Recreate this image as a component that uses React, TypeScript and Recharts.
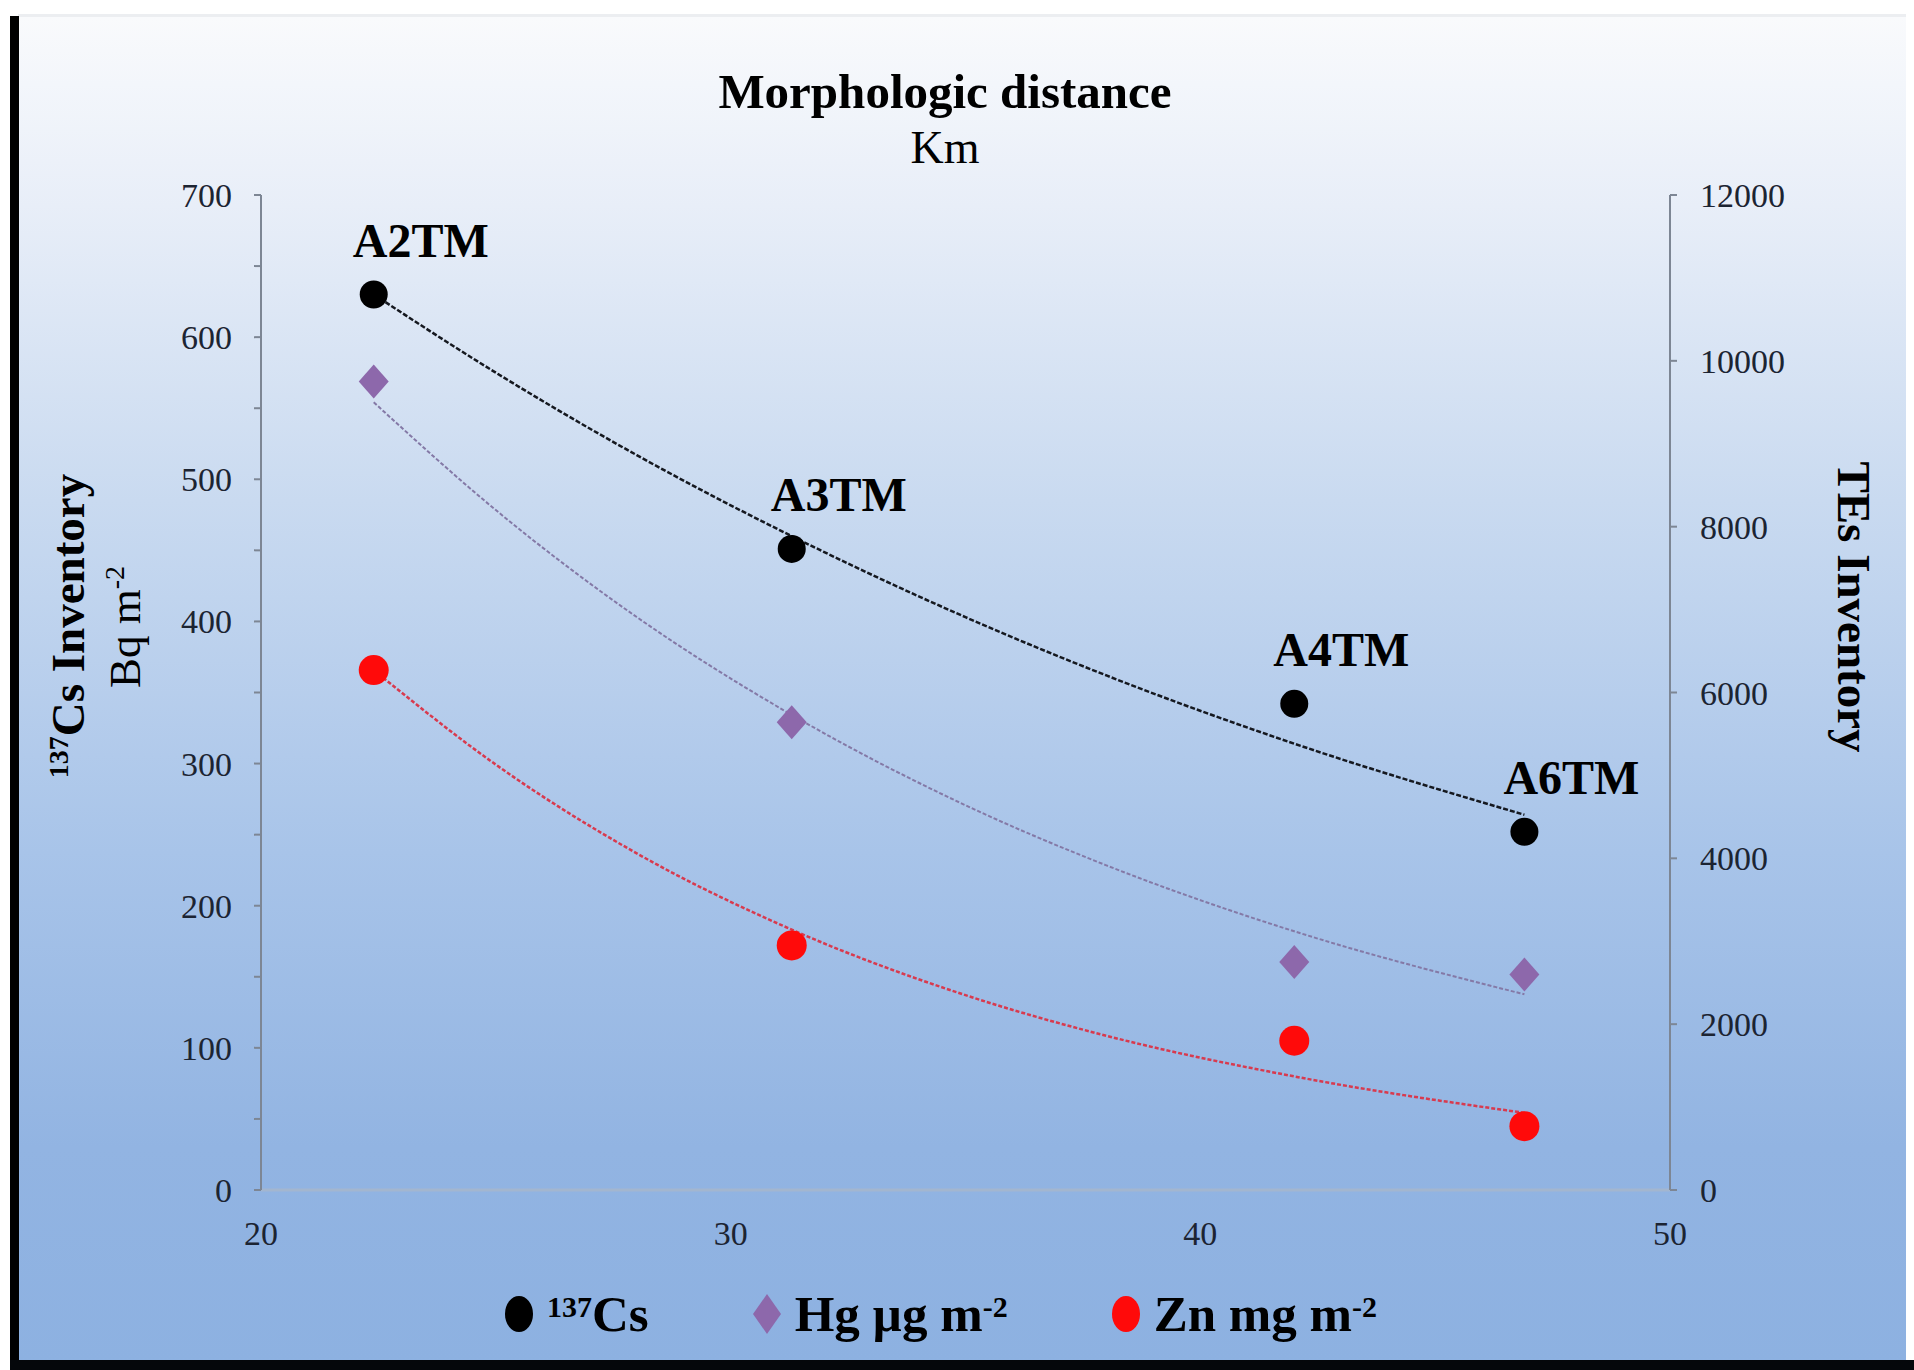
import React from 'react';
import { ComposedChart, Scatter, Line, XAxis, YAxis } from 'recharts';

// sampling sites along the river
const sites = ['A2TM', 'A3TM', 'A4TM', 'A6TM'];
const distanceKm = [22.4, 31.3, 42.0, 46.9];
const cs137 = [630, 451, 342, 252]; // Bq m-2, left axis
const hg = [9750, 5640, 2750, 2600]; // right axis
const zn = [6270, 2950, 1800, 770]; // right axis

// trend curves
const trendKm = [22.4, 25, 28, 31.3, 35, 38, 42, 46.9];
const csTrend = [630, 575, 517, 460, 403, 362, 314, 264];
const hgTrend = [9500, 8200, 6910, 5730, 4640, 3915, 3120, 2360];
const znTrend = [6270, 5130, 4060, 3140, 2350, 1860, 1370, 930];

const xTicks = [20, 30, 40, 50];
const leftTicks = [0, 50, 100, 150, 200, 250, 300, 350, 400, 450, 500, 550, 600, 650, 700];
const rightTicks = [0, 2000, 4000, 6000, 8000, 10000, 12000];

const SERIF = '"Liberation Serif", "DejaVu Serif", serif';
const TICK_COLOR = '#1c2432';
const HG_COLOR = '#8d68ab';
const ZN_COLOR = '#ff0a0a';

const csPoints = sites.map((site, i) => ({ x: distanceKm[i], y: cs137[i], site }));
const hgPoints = sites.map((site, i) => ({ x: distanceKm[i], y: hg[i], site }));
const znPoints = sites.map((site, i) => ({ x: distanceKm[i], y: zn[i], site }));
const csTrendRows = trendKm.map((x, i) => ({ x, y: csTrend[i] }));
const hgTrendRows = trendKm.map((x, i) => ({ x, y: hgTrend[i] }));
const znTrendRows = trendKm.map((x, i) => ({ x, y: znTrend[i] }));

const CsMarker = (p: any) => (
  <g>
    <circle cx={p.cx} cy={p.cy} r={14} fill="#000" />
    <text x={p.cx + 47} y={p.cy - 38} textAnchor="middle" fontFamily={SERIF} fontWeight="bold" fontSize={48} fill="#000">
      {p.payload.site}
    </text>
  </g>
);

const HgMarker = (p: any) => (
  <polygon
    points={`${p.cx},${p.cy - 17} ${p.cx + 15},${p.cy} ${p.cx},${p.cy + 17} ${p.cx - 15},${p.cy}`}
    fill={HG_COLOR}
  />
);

const ZnMarker = (p: any) => <circle cx={p.cx} cy={p.cy} r={15} fill={ZN_COLOR} />;

const LeftTick = (p: any) => {
  if (p.payload.value % 100 !== 0) return <g />;
  return (
    <text x={p.x} y={p.y + 12} textAnchor="end" fontFamily={SERIF} fontSize={34} fill={TICK_COLOR}>
      {p.payload.value}
    </text>
  );
};

const RightTick = (p: any) => (
  <text x={p.x} y={p.y + 12} textAnchor="start" fontFamily={SERIF} fontSize={34} fill={TICK_COLOR}>
    {p.payload.value}
  </text>
);

const BottomTick = (p: any) => (
  <text x={p.x} y={p.y + 24} textAnchor="middle" fontFamily={SERIF} fontSize={34} fill={TICK_COLOR}>
    {p.payload.value}
  </text>
);

const LeftLabel = () => (
  <g fontFamily={SERIF} fill="#000">
    <text transform="translate(84, 626) rotate(-90)" textAnchor="middle" fontSize={47} fontWeight="bold">
      <tspan fontSize={28} dy={-16}>137</tspan>
      <tspan dy={16}>Cs Inventory</tspan>
    </text>
    <text transform="translate(140, 627) rotate(-90)" textAnchor="middle" fontSize={45}>
      <tspan>Bq m</tspan>
      <tspan fontSize={28} dy={-16}>-2</tspan>
    </text>
  </g>
);

const RightLabel = () => (
  <text
    transform="translate(1838, 607) rotate(90)"
    textAnchor="middle"
    fontFamily={SERIF}
    fontWeight="bold"
    fontSize={47}
    fill="#000"
  >
    TEs Inventory
  </text>
);

const legendItems = [
  { key: 'cs', marker: 'circle', color: '#000', name: 'Cs', pre: '137', sup: '' },
  { key: 'hg', marker: 'diamond', color: HG_COLOR, name: 'Hg µg m', pre: '', sup: '-2' },
  { key: 'zn', marker: 'circle', color: ZN_COLOR, name: 'Zn mg m', pre: '', sup: '-2' },
];

function LegendRow() {
  return (
    <div
      style={{
        position: 'absolute',
        left: 503,
        top: 1284,
        display: 'flex',
        alignItems: 'center',
        gap: 102,
        fontFamily: SERIF,
        fontWeight: 'bold',
        fontSize: 51,
        color: '#000',
        lineHeight: '60px',
      }}
    >
      {legendItems.map((it) => (
        <div key={it.key} style={{ display: 'flex', alignItems: 'center', gap: 12 }}>
          <svg width={32} height={42}>
            {it.marker === 'circle' ? (
              <ellipse cx={16} cy={21} rx={14} ry={18} fill={it.color} />
            ) : (
              <polygon points="16,1 30,21 16,41 2,21" fill={it.color} />
            )}
          </svg>
          <span>
            {it.pre && <sup style={{ fontSize: 30, verticalAlign: 'top', lineHeight: '46px' }}>{it.pre}</sup>}
            {it.name}
            {it.sup && <sup style={{ fontSize: 30, verticalAlign: 'top', lineHeight: '46px' }}>{it.sup}</sup>}
          </span>
        </div>
      ))}
    </div>
  );
}

export default function App() {
  return (
    <div style={{ position: 'absolute', left: 0, top: 0, width: 1914, height: 1370, background: '#fff', overflow: 'hidden' }}>
      {/* gradient panel */}
      <div
        style={{
          position: 'absolute',
          left: 18,
          top: 14,
          width: 1888,
          height: 1346,
          background:
            'linear-gradient(to bottom, #f9fafc 0%, #f3f6fb 5%, #e8eef8 14%, #c9daf0 36%, #a8c4e9 62%, #92b4e2 84%, #8db1e1 100%)',
          borderTop: '3px solid #eceef1',
        }}
      />
      <div style={{ position: 'absolute', left: 10, top: 16, width: 9, height: 1354, background: '#000' }} />
      <div style={{ position: 'absolute', left: 10, top: 1360, width: 1904, height: 10, background: '#05070b' }} />

      <div
        style={{
          position: 'absolute',
          left: 0,
          width: 1890,
          top: 64,
          textAlign: 'center',
          fontFamily: SERIF,
          color: '#000',
          lineHeight: '56px',
        }}
      >
        <div style={{ fontWeight: 'bold', fontSize: 49 }}>Morphologic distance</div>
        <div style={{ fontSize: 46 }}>Km</div>
      </div>

      <div style={{ position: 'absolute', left: 0, top: 0 }}>
        <ComposedChart width={1914} height={1370} margin={{ top: 195, right: 104, bottom: 120, left: 161 }}>
          <XAxis
            dataKey="x"
            type="number"
            domain={[20, 50]}
            ticks={xTicks}
            allowDataOverflow
            tick={<BottomTick />}
            tickLine={false}
            tickSize={0}
            tickMargin={31}
            height={60}
            axisLine={{ stroke: '#a3b6cf', strokeWidth: 3 }}
          />
          <YAxis
            yAxisId="left"
            type="number"
            domain={[0, 700]}
            ticks={leftTicks}
            interval={0}
            width={100}
            tick={<LeftTick />}
            tickSize={7}
            tickMargin={22}
            tickLine={{ stroke: '#7d8694', strokeWidth: 2 }}
            axisLine={{ stroke: '#7d8694', strokeWidth: 2 }}
            label={<LeftLabel />}
          />
          <YAxis
            yAxisId="right"
            orientation="right"
            type="number"
            domain={[0, 12000]}
            ticks={rightTicks}
            interval={0}
            width={140}
            tick={<RightTick />}
            tickSize={7}
            tickMargin={23}
            tickLine={{ stroke: '#7d8694', strokeWidth: 2 }}
            axisLine={{ stroke: '#7d8694', strokeWidth: 2 }}
            label={<RightLabel />}
          />

          <Line
            yAxisId="right"
            data={hgTrendRows}
            dataKey="y"
            type="monotone"
            stroke="#8479a6"
            strokeWidth={2}
            strokeDasharray="4 2"
            dot={false}
            isAnimationActive={false}
          />
          <Line
            yAxisId="right"
            data={znTrendRows}
            dataKey="y"
            type="monotone"
            stroke="#d83a4e"
            strokeWidth={2.5}
            strokeDasharray="4 2"
            dot={false}
            isAnimationActive={false}
          />
          <Line
            yAxisId="left"
            data={csTrendRows}
            dataKey="y"
            type="monotone"
            stroke="#15181f"
            strokeWidth={2.5}
            strokeDasharray="5 2"
            dot={false}
            isAnimationActive={false}
          />

          <Scatter yAxisId="right" data={hgPoints} dataKey="y" shape={<HgMarker />} isAnimationActive={false} />
          <Scatter yAxisId="right" data={znPoints} dataKey="y" shape={<ZnMarker />} isAnimationActive={false} />
          <Scatter yAxisId="left" data={csPoints} dataKey="y" shape={<CsMarker />} isAnimationActive={false} />
        </ComposedChart>
      </div>

      <LegendRow />
    </div>
  );
}
